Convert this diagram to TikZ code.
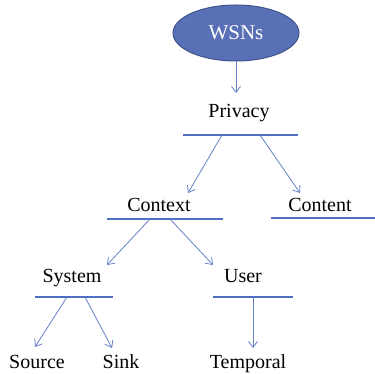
\documentclass[tikz,border=0pt]{standalone}
\usepackage{fontspec}
\setmainfont{Liberation Serif}
\usetikzlibrary{arrows.meta,shapes.geometric}
\definecolor{ellfill}{RGB}{90,112,182}
\definecolor{elldraw}{RGB}{62,82,140}
\definecolor{linec}{RGB}{80,110,196}
\definecolor{arrc}{RGB}{100,128,200}
\begin{document}
\begin{tikzpicture}[x=1pt,y=-1pt,
  lbl/.style={font=\fontsize{20}{22}\selectfont, anchor=base, inner sep=0pt},
  uline/.style={draw=linec, line width=1.8pt},
  conn/.style={draw=arrc, line width=0.8pt, -{Straight Barb[length=6pt,width=9pt]}}]
\useasboundingbox (0,0) rectangle (375,374);
% root
\node[ellipse, fill=ellfill, draw=elldraw, line width=1pt, minimum width=126pt, minimum height=56pt, inner sep=0pt,
  text=white, font=\fontsize{21}{23}\selectfont] (wsn) at (236,33) {WSNs};
% labels
\node[lbl] (priv) at (239,118) {Privacy};
\node[lbl] (ctx) at (159,212) {Context};
\node[lbl] (cnt) at (320,212) {Content};
\node[lbl] (sys) at (72,283) {System};
\node[lbl] (usr) at (243,283) {User};
\node[lbl] (src) at (37,368) {Source};
\node[lbl] (snk) at (121,368) {Sink};
\node[lbl] (tmp) at (248,368) {Temporal};
% underlines
\coordinate (pl1) at (183,135); \coordinate (pl2) at (298,135);
\coordinate (cl1) at (107,219); \coordinate (cl2) at (223,219);
\coordinate (nl1) at (271,218); \coordinate (nl2) at (375,218);
\coordinate (sl1) at (35,297);  \coordinate (sl2) at (113,297);
\coordinate (ul1) at (213,297); \coordinate (ul2) at (293,297);
\draw[uline] (pl1) -- (pl2);
\draw[uline] (cl1) -- (cl2);
\draw[uline] (nl1) -- (nl2);
\draw[uline] (sl1) -- (sl2);
\draw[uline] (ul1) -- (ul2);
% arrow starts and ends
\coordinate (pa) at (222,135); \coordinate (pb) at (260,135);
\coordinate (ca) at (150,219); \coordinate (cb) at (170,219);
\coordinate (sa) at (67,297);  \coordinate (sb) at (85,297);
\coordinate (ua) at (253,297);
\coordinate (tctx) at (188,193); \coordinate (tcnt) at (300,193);
\coordinate (tsys) at (107,265); \coordinate (tusr) at (213,265);
\coordinate (tsrc) at (35,347);  \coordinate (tsnk) at (112,348);
\coordinate (ttmp) at (253,348);
\coordinate (tpriv) at (236,93);
\draw[conn] (wsn.south) -- (tpriv);
\draw[conn] (pa) -- (tctx);
\draw[conn] (pb) -- (tcnt);
\draw[conn] (ca) -- (tsys);
\draw[conn] (cb) -- (tusr);
\draw[conn] (sa) -- (tsrc);
\draw[conn] (sb) -- (tsnk);
\draw[conn] (ua) -- (ttmp);
\end{tikzpicture}
\end{document}
